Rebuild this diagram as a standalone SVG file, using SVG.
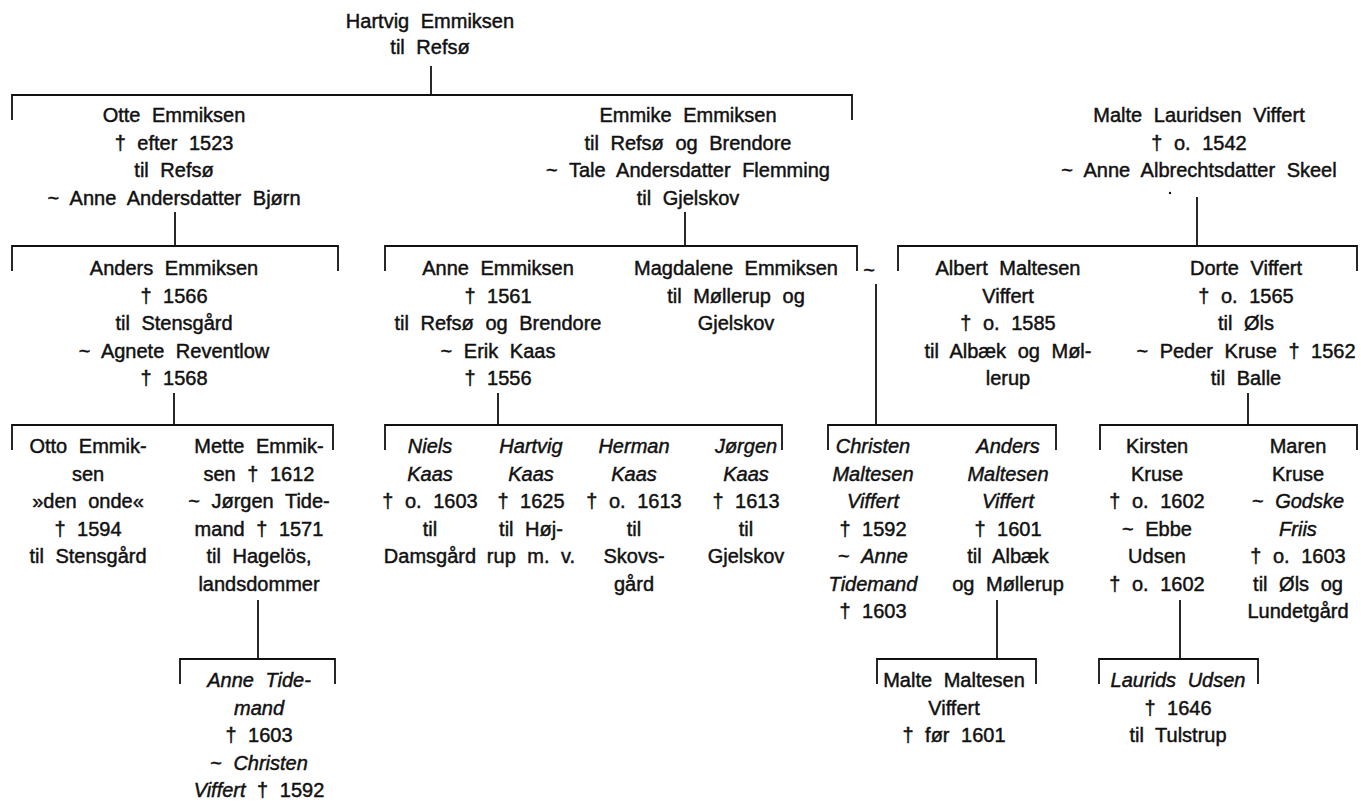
<svg xmlns="http://www.w3.org/2000/svg" width="1361" height="803" viewBox="0 0 1361 803">
<style>
.t{font-family:"Liberation Sans",Arial,sans-serif;font-size:20px;text-anchor:middle;fill:#111;stroke:#111;stroke-width:0.45;word-spacing:6px}
.i{font-style:italic}
.ln{stroke:#111;stroke-width:1.8;fill:none}
</style>
<rect width="1361" height="803" fill="#fff"/>
<g id="connectors" class="ln">
<path d="M431 66V95"/>
<path d="M12 120V95H852V120"/>
<path d="M175 212V246"/>
<path d="M12 271V246H338V271"/>
<path d="M685 212V246"/>
<path d="M385 271V246H857V271"/>
<path d="M1197 197V246"/>
<path d="M898 271V246H1357V271"/>
<path d="M876 284V425"/>
<path d="M174 393V425"/>
<path d="M12 450V425H333V450"/>
<path d="M498 393V425"/>
<path d="M385 450V425H782V450"/>
<path d="M828 450V425H1056V450"/>
<path d="M1248 393V425"/>
<path d="M1100 450V425H1357V450"/>
<path d="M258 600V659"/>
<path d="M180 684V659H335V684"/>
<path d="M997 600V659"/>
<path d="M877 684V659H1036V684"/>
<path d="M1180 600V659"/>
<path d="M1099 684V659H1258V684"/>
</g>
<circle cx="1170" cy="193" r="1.2" fill="#111"/>
<g id="hartvig"><text class="t"><tspan x="430" y="28">Hartvig Emmiksen</tspan><tspan x="430" y="54">til Refsø</tspan></text></g>
<g id="otte"><text class="t"><tspan x="174" y="122">Otte Emmiksen</tspan><tspan x="174" y="149.5">† efter 1523</tspan><tspan x="174" y="177">til Refsø</tspan><tspan x="174" y="204.5">~ Anne Andersdatter Bjørn</tspan></text></g>
<g id="emmike"><text class="t"><tspan x="688" y="122">Emmike Emmiksen</tspan><tspan x="688" y="149.5">til Refsø og Brendore</tspan><tspan x="688" y="177">~ Tale Andersdatter Flemming</tspan><tspan x="688" y="204.5">til Gjelskov</tspan></text></g>
<g id="malte"><text class="t"><tspan x="1199" y="122">Malte Lauridsen Viffert</tspan><tspan x="1199" y="149.5">† o. 1542</tspan><tspan x="1199" y="177">~ Anne Albrechtsdatter Skeel</tspan></text></g>
<g id="anders"><text class="t"><tspan x="174" y="275">Anders Emmiksen</tspan><tspan x="174" y="302.5">† 1566</tspan><tspan x="174" y="330">til Stensgård</tspan><tspan x="174" y="357.5">~ Agnete Reventlow</tspan><tspan x="174" y="385">† 1568</tspan></text></g>
<g id="anne"><text class="t"><tspan x="498" y="275">Anne Emmiksen</tspan><tspan x="498" y="302.5">† 1561</tspan><tspan x="498" y="330">til Refsø og Brendore</tspan><tspan x="498" y="357.5">~ Erik Kaas</tspan><tspan x="498" y="385">† 1556</tspan></text></g>
<g id="magdalene"><text class="t"><tspan x="736" y="275">Magdalene Emmiksen</tspan><tspan x="736" y="302.5">til Møllerup og</tspan><tspan x="736" y="330">Gjelskov</tspan></text></g>
<g id="marriage"><text class="t" x="869" y="277">~</text></g>
<g id="albert"><text class="t"><tspan x="1008" y="275">Albert Maltesen</tspan><tspan x="1008" y="302.5">Viffert</tspan><tspan x="1008" y="330">† o. 1585</tspan><tspan x="1008" y="357.5">til Albæk og Møl-</tspan><tspan x="1008" y="385">lerup</tspan></text></g>
<g id="dorte"><text class="t"><tspan x="1246" y="275">Dorte Viffert</tspan><tspan x="1246" y="302.5">† o. 1565</tspan><tspan x="1246" y="330">til Øls</tspan><tspan x="1246" y="357.5">~ Peder Kruse † 1562</tspan><tspan x="1246" y="385">til Balle</tspan></text></g>
<g id="otto"><text class="t"><tspan x="88" y="453">Otto Emmik-</tspan><tspan x="88" y="480.5">sen</tspan><tspan x="88" y="508">»den onde«</tspan><tspan x="88" y="535.5">† 1594</tspan><tspan x="88" y="563">til Stensgård</tspan></text></g>
<g id="mette"><text class="t"><tspan x="259" y="453">Mette Emmik-</tspan><tspan x="259" y="480.5">sen † 1612</tspan><tspan x="259" y="508">~ Jørgen Tide-</tspan><tspan x="259" y="535.5">mand † 1571</tspan><tspan x="259" y="563">til Hagelös,</tspan><tspan x="259" y="590.5">landsdommer</tspan></text></g>
<g id="niels"><text class="t"><tspan x="430" y="453" class="i">Niels</tspan><tspan x="430" y="480.5" class="i">Kaas</tspan><tspan x="430" y="508">† o. 1603</tspan><tspan x="430" y="535.5">til</tspan><tspan x="430" y="563">Damsgård</tspan></text></g>
<g id="hartvig-kaas"><text class="t"><tspan x="531" y="453" class="i">Hartvig</tspan><tspan x="531" y="480.5" class="i">Kaas</tspan><tspan x="531" y="508">† 1625</tspan><tspan x="531" y="535.5">til Høj-</tspan><tspan x="531" y="563">rup m. v.</tspan></text></g>
<g id="herman"><text class="t"><tspan x="634" y="453" class="i">Herman</tspan><tspan x="634" y="480.5" class="i">Kaas</tspan><tspan x="634" y="508">† o. 1613</tspan><tspan x="634" y="535.5">til</tspan><tspan x="634" y="563">Skovs-</tspan><tspan x="634" y="590.5">gård</tspan></text></g>
<g id="jorgen"><text class="t"><tspan x="746" y="453" class="i">Jørgen</tspan><tspan x="746" y="480.5" class="i">Kaas</tspan><tspan x="746" y="508">† 1613</tspan><tspan x="746" y="535.5">til</tspan><tspan x="746" y="563">Gjelskov</tspan></text></g>
<g id="christen"><text class="t"><tspan x="873" y="453" class="i">Christen</tspan><tspan x="873" y="480.5" class="i">Maltesen</tspan><tspan x="873" y="508" class="i">Viffert</tspan><tspan x="873" y="535.5">† 1592</tspan><tspan x="873" y="563">~ <tspan class="i">Anne</tspan></tspan><tspan x="873" y="590.5" class="i">Tidemand</tspan><tspan x="873" y="618">† 1603</tspan></text></g>
<g id="anders-maltesen"><text class="t"><tspan x="1008" y="453" class="i">Anders</tspan><tspan x="1008" y="480.5" class="i">Maltesen</tspan><tspan x="1008" y="508" class="i">Viffert</tspan><tspan x="1008" y="535.5">† 1601</tspan><tspan x="1008" y="563">til Albæk</tspan><tspan x="1008" y="590.5">og Møllerup</tspan></text></g>
<g id="kirsten"><text class="t"><tspan x="1157" y="453">Kirsten</tspan><tspan x="1157" y="480.5">Kruse</tspan><tspan x="1157" y="508">† o. 1602</tspan><tspan x="1157" y="535.5">~ Ebbe</tspan><tspan x="1157" y="563">Udsen</tspan><tspan x="1157" y="590.5">† o. 1602</tspan></text></g>
<g id="maren"><text class="t"><tspan x="1298" y="453">Maren</tspan><tspan x="1298" y="480.5">Kruse</tspan><tspan x="1298" y="508">~ <tspan class="i">Godske</tspan></tspan><tspan x="1298" y="535.5" class="i">Friis</tspan><tspan x="1298" y="563">† o. 1603</tspan><tspan x="1298" y="590.5">til Øls og</tspan><tspan x="1298" y="618">Lundetgård</tspan></text></g>
<g id="anne-tidemand"><text class="t"><tspan x="259" y="687" class="i">Anne Tide-</tspan><tspan x="259" y="714.5" class="i">mand</tspan><tspan x="259" y="742">† 1603</tspan><tspan x="259" y="769.5">~ <tspan class="i">Christen</tspan></tspan><tspan x="259" y="797"><tspan class="i">Viffert</tspan> † 1592</tspan></text></g>
<g id="malte-maltesen"><text class="t"><tspan x="954" y="687">Malte Maltesen</tspan><tspan x="954" y="714.5">Viffert</tspan><tspan x="954" y="742">† før 1601</tspan></text></g>
<g id="laurids"><text class="t"><tspan x="1178" y="687" class="i">Laurids Udsen</tspan><tspan x="1178" y="714.5">† 1646</tspan><tspan x="1178" y="742">til Tulstrup</tspan></text></g>
</svg>
